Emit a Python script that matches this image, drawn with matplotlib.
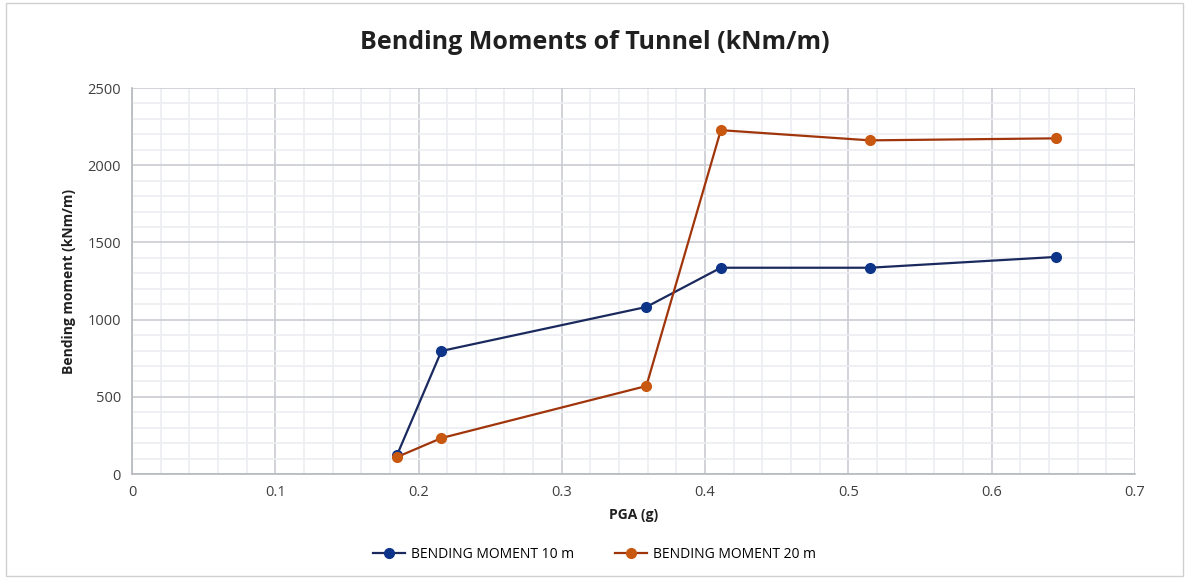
import numpy as np
import matplotlib.pyplot as plt
from matplotlib.ticker import MultipleLocator
from matplotlib.patches import Rectangle

plt.rcParams['font.family'] = ['Open Sans', 'DejaVu Sans']

pga = [0.185, 0.216, 0.359, 0.411, 0.515, 0.645]
bm_10m = [123, 797, 1082, 1336, 1336, 1406]
bm_20m = [110, 233, 570, 2227, 2161, 2174]

fig = plt.figure(figsize=(11.89, 5.79), dpi=100)
ax = fig.add_axes([0.111, 0.1813, 0.8435, 0.6667])

fig.patches.append(Rectangle((0.005, 0.005), 0.99, 0.99, transform=fig.transFigure,
                             fill=False, edgecolor='#d0d0d0', linewidth=1))

ax.plot(pga, bm_10m, color='#1b2a5e', lw=1.6, marker='o', ms=7,
        mfc='#0d3489', mec='#0d3489', label='BENDING MOMENT 10 m', zorder=3)
ax.plot(pga, bm_20m, color='#a0350c', lw=1.6, marker='o', ms=7,
        mfc='#c8570f', mec='#c8570f', label='BENDING MOMENT 20 m', zorder=3)

ax.set_xlim(0, 0.7)
ax.set_ylim(0, 2500)
ax.xaxis.set_major_locator(MultipleLocator(0.1))
ax.xaxis.set_minor_locator(MultipleLocator(0.02))
ax.yaxis.set_major_locator(MultipleLocator(500))
ax.yaxis.set_minor_locator(MultipleLocator(100))
ax.set_xticks(np.arange(0, 0.71, 0.1))
ax.set_xticklabels(['0', '0.1', '0.2', '0.3', '0.4', '0.5', '0.6', '0.7'])

ax.grid(which='major', color='#c9ccd3', lw=1.2)
ax.grid(which='minor', color='#eceef1', lw=1.2)
ax.set_axisbelow(True)
ax.tick_params(which='both', length=0, labelsize=10.5, colors='#404040', pad=8)

for s in ['top', 'right']:
    ax.spines[s].set_visible(False)
for s in ['left', 'bottom']:
    ax.spines[s].set_color('#b5b8bd')
    ax.spines[s].set_linewidth(1.2)

ax.set_xlabel('PGA (g)', fontsize=10, fontweight='bold', color='#202020', labelpad=6)
ax.set_ylabel('Bending moment (kNm/m)', fontsize=10, fontweight='bold', color='#202020', labelpad=8)
fig.suptitle('Bending Moments of Tunnel (kNm/m)', fontsize=18, fontweight='bold',
             color='#202020', y=0.948)

fig.legend(loc='center', bbox_to_anchor=(0.5, 0.043), ncol=2, frameon=False,
           fontsize=10, handlelength=2.3, handletextpad=0.4, columnspacing=3)

fig.savefig('out.png', dpi=100)
